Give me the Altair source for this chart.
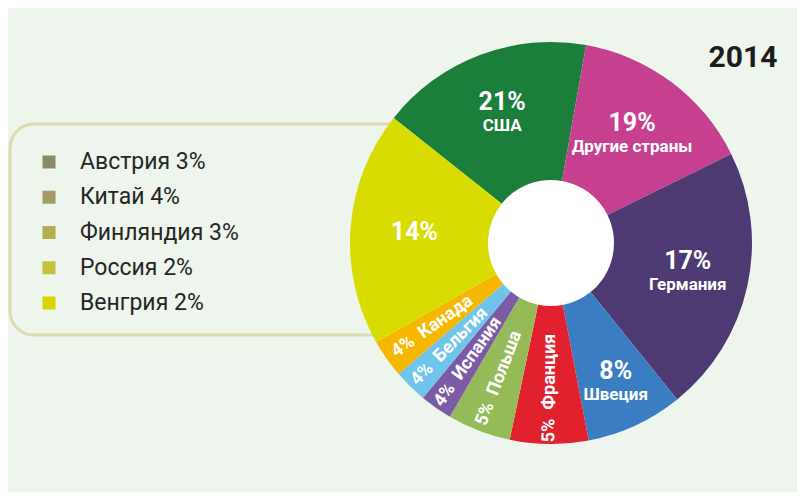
import math
import altair as alt
import pandas as pd

# ---------------- data ----------------
countries = ["США", "Другие страны", "Германия", "Швеция", "Франция",
             "Польша", "Испания", "Бельгия", "Канада", "Прочие"]
pct_labels = [21, 19, 17, 8, 5, 5, 4, 4, 4, 14]
# size of each slice as drawn in the picture (percent of the full circle)
drawn_share = [17.1, 14.9, 21.5, 7.8, 6.3, 5.1, 2.6, 2.7, 3.1, 18.9]
label_kind = ["two", "two", "two", "two", "rot", "rot", "rot", "rot", "rot", "solo"]
slice_colors = ["#1b7f3b", "#c73f8f", "#4d3a72", "#3b7dc3", "#e1222e",
                "#95bb59", "#7c5ba6", "#6fc4ec", "#f6b700", "#d8dc00"]

legend_names = ["Австрия", "Китай", "Финляндия", "Россия", "Венгрия"]
legend_pct = [3, 4, 3, 2, 2]
legend_colors = ["#8b8a66", "#a29b62", "#b4ae4a", "#c6c13b", "#d8d500"]

year = "2014"

# ---------------- layout ----------------
BG = "#edf5ec"
CX, CY = 543, 235
R_OUT, R_IN, R_RING = 201, 63, 218
START_DEG = 308.5
START = math.radians(START_DEG)
label_radius = [138, 135, 140, 154, 145, 145, 145, 145, 145, 137]
FONT = "Roboto"

# ---------------- tables ----------------
pie = pd.DataFrame({
    "idx": range(len(countries)),
    "country": countries,
    "pct": pct_labels,
    "share": drawn_share,
    "kind": label_kind,
})
TOTAL = float(pie["share"].sum())
pie["lr"] = label_radius
cum = pie["share"].cumsum()
pie["mid"] = cum - pie["share"] / 2
pie["rot"] = ((START_DEG + pie["mid"] / TOTAL * 360 + 90) % 360).round(2)
pie["pct2"] = [f"{p}%" if k == "two" else "" for p, k in zip(pie["pct"], pie["kind"])]
pie["name2"] = [c if k == "two" else "" for c, k in zip(pie["country"], pie["kind"])]
pie["solo"] = [f"{p}%" if k == "solo" else "" for p, k in zip(pie["pct"], pie["kind"])]
pie["small"] = [f"{p}%\u00a0\u00a0{c}" if k == "rot" else ""
                for p, c, k in zip(pie["pct"], pie["country"], pie["kind"])]

leg = pd.DataFrame({"name": legend_names, "pct": legend_pct})
leg["label"] = [f"{n} {p}%" for n, p in zip(leg["name"], leg["pct"])]

one = pd.DataFrame({"year": [year]})

# ---------------- marks ----------------
pos = dict(x=alt.value(CX), y=alt.value(CY))
theta_scale = alt.Scale(domain=[0, TOTAL], range=[START, START + 2 * math.pi])
order = alt.Order("idx:Q", sort="ascending")

box = alt.Chart(one).mark_rect(
    cornerRadius=24, fillOpacity=0, stroke="#dcdab0", strokeWidth=3
).encode(x=alt.value(2), x2=alt.value(470), y=alt.value(116), y2=alt.value(327))

glow = alt.Chart(one).mark_circle(
    size=math.pi * (R_RING + 5) ** 2, color="white", opacity=0.45
).encode(**pos)
ring = alt.Chart(one).mark_circle(
    size=math.pi * R_RING ** 2, color="white", opacity=1
).encode(**pos)

base = alt.Chart(pie)
arcs = base.mark_arc(innerRadius=R_IN, outerRadius=R_OUT).encode(
    theta=alt.Theta("share:Q", stack=True, scale=theta_scale), order=order,
    color=alt.Color("country:N", scale=alt.Scale(domain=countries, range=slice_colors),
                    legend=None),
    **pos)

lab_theta = alt.Theta("mid:Q", stack=False, scale=theta_scale)
lab_r = alt.Radius("lr:Q", scale=None, stack=False)

t_pct = base.mark_text(font=FONT, fontWeight="bold", fontSize=25, color="white",
                       dy=-12, align="center", baseline="middle").encode(
    theta=lab_theta, radius=lab_r, text="pct2:N", **pos)
t_name = base.mark_text(font=FONT, fontWeight="bold", fontSize=17, color="white",
                        dy=12, align="center", baseline="middle").encode(
    theta=lab_theta, radius=lab_r, text="name2:N", **pos)
t_solo = base.mark_text(font=FONT, fontWeight="bold", fontSize=25, color="white",
                        align="center", baseline="middle").encode(
    theta=lab_theta, radius=lab_r, text="solo:N", **pos)
t_small = base.mark_text(font=FONT, fontWeight="bold", fontSize=18, color="white",
                         align="center", baseline="middle").encode(
    theta=lab_theta, radius=lab_r,
    angle=alt.Angle("rot:Q", scale=None),
    text="small:N", **pos)

ly = alt.Y("name:N", sort=legend_names,
           scale=alt.Scale(domain=legend_names, range=[154, 295], padding=0),
           axis=None)
squares = alt.Chart(leg).mark_square(size=169, opacity=1).encode(
    x=alt.value(41), y=ly,
    color=alt.Color("name:N", scale=alt.Scale(domain=legend_names, range=legend_colors),
                    legend=None))
leg_text = alt.Chart(leg).mark_text(
    font=FONT, fontSize=23, color="#252525", align="left", baseline="middle"
).encode(x=alt.value(72), y=ly, text="label:N")

yr = alt.Chart(one).mark_text(
    font=FONT, fontWeight="bold", fontSize=30, color="#1c1c1c",
    align="center", baseline="middle"
).encode(x=alt.value(735), y=alt.value(50), text="year:N")

chart = alt.layer(
    box, glow, ring, arcs, t_pct, t_name, t_solo, t_small, squares, leg_text, yr
).resolve_scale(color="independent").properties(
    width=789, height=484, padding=0, autosize="none"
).configure(background=BG).configure_view(stroke=None)

chart.save("out.html", embed_options={"renderer": "svg", "actions": False})
